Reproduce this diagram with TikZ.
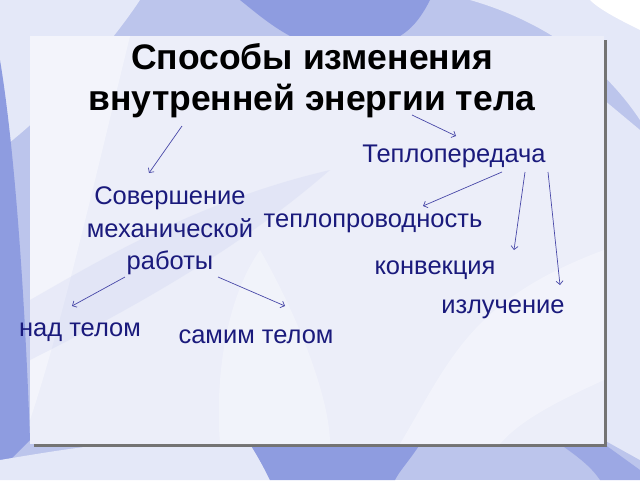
\documentclass[tikz,border=0pt]{standalone}
\usepackage{fontspec}
\setmainfont{Liberation Sans}
\usetikzlibrary{arrows.meta}
\definecolor{navy}{HTML}{1A1A7C}
\definecolor{arr}{HTML}{4848A8}
\definecolor{bgmid}{HTML}{BCC5EC}
\definecolor{bgdark}{HTML}{8E9CE0}
\definecolor{bglight}{HTML}{E4E8F8}
\definecolor{panel}{HTML}{ECEEF9}
\begin{document}
\begin{tikzpicture}[x=1pt,y=-1pt,
  lbl/.style={text=navy, font=\fontsize{25.5}{32.5}\selectfont, inner sep=0pt, align=center},
  conn/.style={draw=arr, line width=0.7pt, -{Straight Barb[length=3.5pt,width=7pt]}}]
\useasboundingbox (0,0) rectangle (640,480);
% background
\fill[bgmid] (0,0) rectangle (640,480);
\fill[bglight] (0,0) -- (140,0) .. controls (100,60) and (40,120) .. (0,150) -- cycle;
\fill[bgdark] (240,0) -- (430,0) .. controls (420,20) and (410,30) .. (400,36) -- (290,36) .. controls (270,25) and (255,12) .. (240,0) -- cycle;
\fill[bglight] (470,0) -- (640,0) -- (640,120) .. controls (600,60) and (540,20) .. (470,0) -- cycle;
\fill[white] (590,0) -- (640,0) -- (640,30) .. controls (620,20) and (600,10) .. (590,0) -- cycle;
\fill[bgdark] (0,60) .. controls (15,150) and (25,300) .. (30,440) -- (0,470) -- cycle;
\fill[bglight] (0,480) -- (0,460) .. controls (60,450) and (120,440) .. (150,444) -- (250,444) .. controls (260,460) and (265,470) .. (270,480) -- cycle;
\fill[bgdark] (250,444) -- (420,444) .. controls (410,460) and (400,470) .. (395,480) -- (270,480) .. controls (265,470) and (260,460) .. (250,444) -- cycle;
\fill[bgdark!70!bgmid] (560,444) -- (604,444) -- (640,470) -- (640,480) -- (600,480) .. controls (590,465) and (575,455) .. (560,444) -- cycle;
\fill[bglight] (604,100) -- (640,130) -- (640,460) -- (604,440) -- cycle;
% shadow and panel
\fill[black!55] (34,40) rectangle (607,447);
\fill[panel] (30,36) rectangle (604,444);
\fill[white, opacity=0.4] (30,36) -- (130,36) .. controls (90,200) and (60,330) .. (30,420) -- cycle;
\fill[white, opacity=0.3] (220,444) .. controls (215,380) and (225,300) .. (260,250) .. controls (300,320) and (330,400) .. (330,444) -- cycle;
\fill[white, opacity=0.35] (400,444) .. controls (450,360) and (470,300) .. (604,250) -- (604,380) .. controls (560,400) and (520,420) .. (500,444) -- cycle;
\fill[bgmid, opacity=0.2] (30,300) .. controls (100,260) and (200,200) .. (330,170) .. controls (250,240) and (150,300) .. (30,360) -- cycle;
% texts
\node[font=\fontsize{35.5}{41}\selectfont\bfseries, inner sep=0pt, align=center] (title) at (312,81) {Способы изменения\\внутренней энергии тела};
\node[lbl] (tp) at (454,156) {Теплопередача};
\node[lbl] (sov) at (170,231) {Совершение\\механической\\работы};
\node[lbl] (tpr) at (373,223) {теплопроводность};
\node[lbl] (konv) at (435,270) {конвекция};
\node[lbl] (izl) at (503,309) {излучение};
\node[lbl] (nad) at (80,332) {над телом};
\node[lbl] (sam) at (256,337) {самим телом};
% connector endpoints
\coordinate (a1) at (182,126); \coordinate (b1) at (149,173);
\coordinate (a2) at (412,115); \coordinate (b2) at (456,136);
\coordinate (a3) at (502,172); \coordinate (b3) at (423,206);
\coordinate (a4) at (525,172); \coordinate (b4) at (514,250);
\coordinate (a5) at (548,172); \coordinate (b5) at (560,285);
\coordinate (a6) at (125,277); \coordinate (b6) at (72,306);
\coordinate (a7) at (218,277); \coordinate (b7) at (285,306);
\draw[conn] (a1) -- (b1);
\draw[conn] (a2) -- (b2);
\draw[conn] (a3) -- (b3);
\draw[conn] (a4) -- (b4);
\draw[conn] (a5) -- (b5);
\draw[conn] (a6) -- (b6);
\draw[conn] (a7) -- (b7);
\end{tikzpicture}
\end{document}
